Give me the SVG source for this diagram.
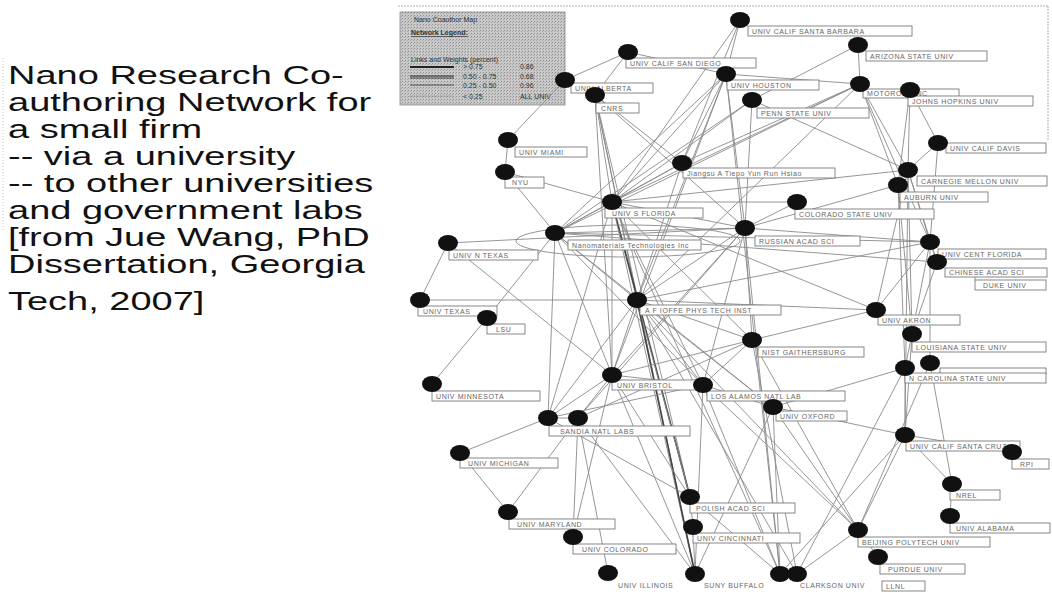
<svg xmlns="http://www.w3.org/2000/svg" width="1052" height="602" viewBox="0 0 1052 602">
<defs>
<pattern id="tex" width="3" height="3" patternUnits="userSpaceOnUse">
<rect width="3" height="3" fill="#c9c9c9"/>
<rect width="1" height="1" fill="#8d8d8d"/>
<rect x="2" y="1" width="1" height="1" fill="#a5a5a5"/>
</pattern>
<style>
.e{stroke:#8a8a8a;stroke-width:0.9;fill:none}
.ed{stroke:#444;stroke-width:1.6;fill:none}
.nd{fill:#111}
.lb{fill:#fff;stroke:#7a7a7a;stroke-width:0.9}
.lt{font-family:"Liberation Sans",Arial,sans-serif;font-size:7px;fill:#666;letter-spacing:0.6px}
.tt{font-family:"Liberation Sans",Arial,sans-serif;font-size:25px;fill:#111}
.lg{font-family:"Liberation Sans",Arial,sans-serif;font-size:7px;fill:#333}
</style>
</defs>
<rect width="1052" height="602" fill="#fff"/>
<g id="frame" stroke="#999" stroke-width="0.8" fill="none" stroke-dasharray="2,1">
<line x1="398" y1="6" x2="1048" y2="6"/>
<line x1="1048" y1="6" x2="1048" y2="140"/>
<line x1="3" y1="58" x2="3" y2="232" stroke="#bbb" stroke-dasharray="1,2"/>
</g>
<g id="title" transform="translate(8,0) scale(1.52,1)">
<text class="tt" x="0" y="84">Nano Research Co-</text>
<text class="tt" x="0" y="111">authoring Network for</text>
<text class="tt" x="0" y="138">a small firm</text>
<text class="tt" x="0" y="165">-- via a university</text>
<text class="tt" x="0" y="192">-- to other universities</text>
<text class="tt" x="0" y="219">and government labs</text>
<text class="tt" x="0" y="246">[from Jue Wang, PhD</text>
<text class="tt" x="0" y="273">Dissertation, Georgia</text>
<text class="tt" x="0" y="310">Tech, 2007]</text>
</g>
<g id="legend">
<rect x="400" y="12" width="165" height="93" fill="url(#tex)" stroke="#888" stroke-width="0.8"/>
<text class="lg" x="414" y="22">Nano Coauthor Map</text>
<text class="lg" x="411" y="35" text-decoration="underline" font-weight="bold">Network Legend:</text>
<text class="lg" x="411" y="62">Links and Weights (percent)</text>
<line x1="410" y1="67" x2="454" y2="67" stroke="#222" stroke-width="2"/>
<text class="lg" x="463" y="69">&gt; 0.75</text><text class="lg" x="520" y="69">0.86</text>
<line x1="410" y1="76" x2="454" y2="76" stroke="#222" stroke-width="1.2"/>
<line x1="410" y1="78" x2="454" y2="78" stroke="#222" stroke-width="0.8"/>
<text class="lg" x="463" y="79">0.50 - 0.75</text><text class="lg" x="520" y="79">0.68</text>
<line x1="410" y1="85" x2="454" y2="85" stroke="#333" stroke-width="0.8"/>
<text class="lg" x="463" y="88">0.25 - 0.50</text><text class="lg" x="520" y="88">0.96</text>
<line x1="410" y1="96" x2="454" y2="96" stroke="#666" stroke-width="0.6" stroke-dasharray="1,1"/>
<text class="lg" x="463" y="99">&lt; 0.25</text><text class="lg" x="520" y="99">ALL UNIV</text>
</g>
<g id="connectors">
<line class="e" x1="740" y1="20" x2="726" y2="74"/>
<line class="e" x1="740" y1="20" x2="612" y2="202"/>
<line class="e" x1="740" y1="20" x2="682" y2="163"/>
<line class="e" x1="858" y1="45" x2="752" y2="100"/>
<line class="e" x1="858" y1="45" x2="860" y2="84"/>
<line class="e" x1="628" y1="52" x2="565" y2="80"/>
<line class="e" x1="628" y1="52" x2="595" y2="95"/>
<line class="e" x1="628" y1="52" x2="726" y2="74"/>
<line class="e" x1="565" y1="80" x2="508" y2="140"/>
<line class="e" x1="726" y1="74" x2="860" y2="84"/>
<line class="e" x1="595" y1="95" x2="612" y2="202"/>
<line class="e" x1="595" y1="95" x2="637" y2="300"/>
<line class="e" x1="595" y1="95" x2="612" y2="375"/>
<line class="e" x1="595" y1="95" x2="695" y2="574"/>
<line class="e" x1="595" y1="95" x2="745" y2="228"/>
<line class="e" x1="595" y1="95" x2="682" y2="163"/>
<line class="e" x1="595" y1="95" x2="690" y2="497"/>
<line class="e" x1="508" y1="140" x2="505" y2="172"/>
<line class="e" x1="505" y1="172" x2="612" y2="202"/>
<line class="e" x1="505" y1="172" x2="555" y2="233"/>
<line class="e" x1="726" y1="74" x2="612" y2="202"/>
<line class="e" x1="726" y1="74" x2="555" y2="233"/>
<line class="e" x1="726" y1="74" x2="637" y2="300"/>
<line class="e" x1="726" y1="74" x2="745" y2="228"/>
<line class="e" x1="726" y1="74" x2="612" y2="375"/>
<line class="e" x1="726" y1="74" x2="780" y2="574"/>
<line class="e" x1="726" y1="74" x2="682" y2="163"/>
<line class="e" x1="752" y1="100" x2="745" y2="228"/>
<line class="e" x1="752" y1="100" x2="612" y2="202"/>
<line class="e" x1="752" y1="100" x2="555" y2="233"/>
<line class="e" x1="752" y1="100" x2="908" y2="170"/>
<line class="e" x1="860" y1="84" x2="682" y2="163"/>
<line class="e" x1="860" y1="84" x2="612" y2="202"/>
<line class="e" x1="860" y1="84" x2="555" y2="233"/>
<line class="e" x1="860" y1="84" x2="908" y2="170"/>
<line class="e" x1="860" y1="84" x2="898" y2="185"/>
<line class="e" x1="860" y1="84" x2="930" y2="242"/>
<line class="e" x1="860" y1="84" x2="637" y2="300"/>
<line class="e" x1="910" y1="90" x2="908" y2="170"/>
<line class="e" x1="910" y1="90" x2="938" y2="143"/>
<line class="e" x1="910" y1="90" x2="898" y2="185"/>
<line class="e" x1="938" y1="143" x2="908" y2="170"/>
<line class="e" x1="938" y1="143" x2="930" y2="242"/>
<line class="e" x1="682" y1="163" x2="612" y2="202"/>
<line class="e" x1="682" y1="163" x2="555" y2="233"/>
<line class="e" x1="682" y1="163" x2="637" y2="300"/>
<line class="e" x1="908" y1="170" x2="612" y2="202"/>
<line class="e" x1="908" y1="170" x2="930" y2="242"/>
<line class="e" x1="908" y1="170" x2="912" y2="334"/>
<line class="e" x1="908" y1="170" x2="876" y2="310"/>
<line class="e" x1="908" y1="170" x2="937" y2="262"/>
<line class="e" x1="908" y1="170" x2="905" y2="435"/>
<line class="e" x1="898" y1="185" x2="745" y2="228"/>
<line class="e" x1="898" y1="185" x2="905" y2="368"/>
<line class="e" x1="898" y1="185" x2="912" y2="334"/>
<line class="e" x1="797" y1="202" x2="745" y2="228"/>
<line class="e" x1="797" y1="202" x2="612" y2="202"/>
<line class="e" x1="612" y1="202" x2="555" y2="233"/>
<line class="e" x1="612" y1="202" x2="637" y2="300"/>
<line class="e" x1="612" y1="202" x2="612" y2="375"/>
<line class="e" x1="612" y1="202" x2="548" y2="418"/>
<line class="ed" x1="612" y1="202" x2="690" y2="497"/>
<line class="e" x1="612" y1="202" x2="695" y2="574"/>
<line class="e" x1="612" y1="202" x2="780" y2="574"/>
<line class="e" x1="612" y1="202" x2="703" y2="385"/>
<line class="e" x1="612" y1="202" x2="752" y2="340"/>
<line class="e" x1="612" y1="202" x2="745" y2="228"/>
<line class="e" x1="612" y1="202" x2="876" y2="310"/>
<line class="e" x1="555" y1="233" x2="637" y2="300"/>
<line class="e" x1="555" y1="233" x2="612" y2="375"/>
<line class="e" x1="555" y1="233" x2="745" y2="228"/>
<line class="e" x1="555" y1="233" x2="937" y2="262"/>
<line class="e" x1="555" y1="233" x2="930" y2="242"/>
<line class="e" x1="555" y1="233" x2="548" y2="418"/>
<line class="e" x1="555" y1="233" x2="703" y2="385"/>
<line class="e" x1="555" y1="233" x2="773" y2="407"/>
<line class="e" x1="745" y1="228" x2="637" y2="300"/>
<line class="e" x1="745" y1="228" x2="612" y2="375"/>
<line class="e" x1="745" y1="228" x2="930" y2="242"/>
<line class="e" x1="745" y1="228" x2="752" y2="340"/>
<line class="e" x1="745" y1="228" x2="703" y2="385"/>
<line class="e" x1="745" y1="228" x2="578" y2="418"/>
<line class="e" x1="745" y1="228" x2="780" y2="574"/>
<line class="e" x1="448" y1="243" x2="420" y2="300"/>
<line class="e" x1="448" y1="243" x2="745" y2="228"/>
<line class="e" x1="448" y1="243" x2="612" y2="375"/>
<line class="e" x1="420" y1="300" x2="637" y2="300"/>
<line class="e" x1="487" y1="318" x2="432" y2="384"/>
<line class="e" x1="487" y1="318" x2="555" y2="233"/>
<line class="e" x1="637" y1="300" x2="612" y2="375"/>
<line class="e" x1="637" y1="300" x2="703" y2="385"/>
<line class="e" x1="637" y1="300" x2="773" y2="407"/>
<line class="e" x1="637" y1="300" x2="876" y2="310"/>
<line class="e" x1="637" y1="300" x2="752" y2="340"/>
<line class="e" x1="637" y1="300" x2="548" y2="418"/>
<line class="e" x1="637" y1="300" x2="690" y2="497"/>
<line class="e" x1="637" y1="300" x2="797" y2="574"/>
<line class="e" x1="637" y1="300" x2="930" y2="242"/>
<line class="e" x1="637" y1="300" x2="858" y2="530"/>
<line class="ed" x1="637" y1="300" x2="695" y2="574"/>
<line class="e" x1="876" y1="310" x2="752" y2="340"/>
<line class="e" x1="876" y1="310" x2="930" y2="242"/>
<line class="e" x1="752" y1="340" x2="612" y2="375"/>
<line class="e" x1="752" y1="340" x2="703" y2="385"/>
<line class="e" x1="752" y1="340" x2="578" y2="418"/>
<line class="e" x1="752" y1="340" x2="797" y2="574"/>
<line class="e" x1="752" y1="340" x2="858" y2="530"/>
<line class="e" x1="912" y1="334" x2="930" y2="242"/>
<line class="e" x1="912" y1="334" x2="905" y2="368"/>
<line class="e" x1="912" y1="334" x2="905" y2="435"/>
<line class="e" x1="905" y1="368" x2="905" y2="435"/>
<line class="e" x1="930" y1="363" x2="952" y2="484"/>
<line class="e" x1="930" y1="363" x2="858" y2="530"/>
<line class="e" x1="905" y1="368" x2="797" y2="574"/>
<line class="e" x1="612" y1="375" x2="703" y2="385"/>
<line class="e" x1="612" y1="375" x2="548" y2="418"/>
<line class="e" x1="612" y1="375" x2="578" y2="418"/>
<line class="e" x1="612" y1="375" x2="690" y2="497"/>
<line class="e" x1="612" y1="375" x2="695" y2="574"/>
<line class="e" x1="612" y1="375" x2="573" y2="537"/>
<line class="e" x1="703" y1="385" x2="773" y2="407"/>
<line class="e" x1="703" y1="385" x2="548" y2="418"/>
<line class="e" x1="703" y1="385" x2="695" y2="574"/>
<line class="e" x1="703" y1="385" x2="780" y2="574"/>
<line class="e" x1="703" y1="385" x2="858" y2="530"/>
<line class="e" x1="773" y1="407" x2="858" y2="530"/>
<line class="e" x1="773" y1="407" x2="695" y2="574"/>
<line class="e" x1="773" y1="407" x2="780" y2="574"/>
<line class="e" x1="773" y1="407" x2="905" y2="368"/>
<line class="e" x1="773" y1="407" x2="905" y2="435"/>
<line class="e" x1="548" y1="418" x2="578" y2="418"/>
<line class="e" x1="548" y1="418" x2="460" y2="453"/>
<line class="e" x1="548" y1="418" x2="690" y2="497"/>
<line class="e" x1="578" y1="418" x2="695" y2="574"/>
<line class="e" x1="578" y1="418" x2="573" y2="537"/>
<line class="e" x1="578" y1="418" x2="508" y2="512"/>
<line class="e" x1="460" y1="453" x2="508" y2="512"/>
<line class="e" x1="690" y1="497" x2="693" y2="527"/>
<line class="e" x1="693" y1="527" x2="695" y2="574"/>
<line class="e" x1="608" y1="573" x2="578" y2="418"/>
<line class="e" x1="797" y1="574" x2="858" y2="530"/>
<line class="e" x1="780" y1="574" x2="690" y2="497"/>
<line class="e" x1="858" y1="530" x2="878" y2="557"/>
<line class="e" x1="858" y1="530" x2="905" y2="435"/>
<line class="e" x1="905" y1="435" x2="1012" y2="452"/>
<line class="e" x1="905" y1="435" x2="952" y2="484"/>
<line class="e" x1="952" y1="484" x2="950" y2="516"/>
<line class="e" x1="937" y1="262" x2="930" y2="242"/>
<line class="e" x1="937" y1="262" x2="912" y2="334"/>
<line class="e" x1="930" y1="242" x2="930" y2="363"/>
<line class="e" x1="905" y1="435" x2="780" y2="574"/>
<line class="e" x1="975" y1="270" x2="975" y2="280"/>
<ellipse cx="628" cy="241" rx="112" ry="16" fill="none" stroke="#888" stroke-width="0.9"/>
</g>
<g id="n-ucsb"><rect class="lb" x="748" y="26" width="164" height="10"/><text class="lt" x="752" y="33.5">UNIV CALIF SANTA BARBARA</text><ellipse class="nd" cx="740" cy="20" rx="10" ry="8"/></g>
<g id="n-asu"><rect class="lb" x="866" y="51" width="121" height="10"/><text class="lt" x="870" y="58.5">ARIZONA STATE UNIV</text><ellipse class="nd" cx="858" cy="45" rx="10" ry="8"/></g>
<g id="n-ucsd"><rect class="lb" x="626" y="58" width="130" height="10"/><text class="lt" x="630" y="65.5">UNIV CALIF SAN DIEGO</text><ellipse class="nd" cx="628" cy="52" rx="10" ry="8"/></g>
<g id="n-alberta"><rect class="lb" x="571" y="83" width="82" height="10"/><text class="lt" x="575" y="90.5">UNIV ALBERTA</text><ellipse class="nd" cx="565" cy="80" rx="10" ry="8"/></g>
<g id="n-cnrs"><rect class="lb" x="596" y="103" width="43" height="10"/><text class="lt" x="601" y="110.5">CNRS</text><ellipse class="nd" cx="595" cy="95" rx="10" ry="8"/></g>
<g id="n-houston"><rect class="lb" x="727" y="80" width="92" height="10"/><text class="lt" x="731" y="87.5">UNIV HOUSTON</text><ellipse class="nd" cx="726" cy="74" rx="10" ry="8"/></g>
<g id="n-motorola"><rect class="lb" x="863" y="89" width="96" height="9"/><text class="lt" x="867" y="96">MOTOROLA INC</text><ellipse class="nd" cx="860" cy="84" rx="10" ry="8"/></g>
<g id="n-jhu"><rect class="lb" x="908" y="96" width="125" height="10"/><text class="lt" x="912" y="103.5">JOHNS HOPKINS UNIV</text><ellipse class="nd" cx="910" cy="90" rx="10" ry="8"/></g>
<g id="n-penn"><rect class="lb" x="757" y="108" width="112" height="10"/><text class="lt" x="761" y="115.5">PENN STATE UNIV</text><ellipse class="nd" cx="752" cy="100" rx="10" ry="8"/></g>
<g id="n-miami"><rect class="lb" x="515" y="147" width="72" height="10"/><text class="lt" x="519" y="154.5">UNIV MIAMI</text><ellipse class="nd" cx="508" cy="140" rx="10" ry="8"/></g>
<g id="n-nyu"><rect class="lb" x="505" y="177" width="39" height="11"/><text class="lt" x="512" y="185">NYU</text><ellipse class="nd" cx="505" cy="172" rx="10" ry="8"/></g>
<g id="n-jiangsu"><rect class="lb" x="683" y="168" width="152" height="10"/><text class="lt" x="687" y="175.5">Jiangsu A Tiepo Yun Run Hsiao</text><ellipse class="nd" cx="682" cy="163" rx="10" ry="8"/></g>
<g id="n-ucdavis"><rect class="lb" x="946" y="143" width="100" height="10"/><text class="lt" x="950" y="150.5">UNIV CALIF DAVIS</text><ellipse class="nd" cx="938" cy="143" rx="10" ry="8"/></g>
<g id="n-cmu"><rect class="lb" x="917" y="176" width="130" height="10"/><text class="lt" x="921" y="183.5">CARNEGIE MELLON UNIV</text><ellipse class="nd" cx="908" cy="170" rx="10" ry="8"/></g>
<g id="n-auburn"><rect class="lb" x="900" y="192" width="88" height="10"/><text class="lt" x="904" y="199.5">AUBURN UNIV</text><ellipse class="nd" cx="898" cy="185" rx="10" ry="8"/></g>
<g id="n-usf"><rect class="lb" x="605" y="208" width="98" height="10"/><text class="lt" x="612" y="215.5">UNIV S FLORIDA</text><ellipse class="nd" cx="612" cy="202" rx="10" ry="8"/></g>
<g id="n-csu"><rect class="lb" x="795" y="209" width="139" height="10"/><text class="lt" x="799" y="216.5">COLORADO STATE UNIV</text><ellipse class="nd" cx="797" cy="202" rx="10" ry="8"/></g>
<g id="n-firm"><rect class="lb" x="568" y="240" width="133" height="10"/><text class="lt" x="572" y="247.5">Nanomaterials Technologies Inc</text><ellipse class="nd" cx="555" cy="233" rx="10" ry="8"/></g>
<g id="n-ras"><rect class="lb" x="755" y="236" width="105" height="10"/><text class="lt" x="759" y="243.5">RUSSIAN ACAD SCI</text><ellipse class="nd" cx="745" cy="228" rx="10" ry="8"/></g>
<g id="n-unt"><rect class="lb" x="449" y="250" width="89" height="10"/><text class="lt" x="453" y="257.5">UNIV N TEXAS</text><ellipse class="nd" cx="448" cy="243" rx="10" ry="8"/></g>
<g id="n-ucf"><rect class="lb" x="938" y="249" width="108" height="10"/><text class="lt" x="942" y="256.5">UNIV CENT FLORIDA</text><ellipse class="nd" cx="930" cy="242" rx="10" ry="8"/></g>
<g id="n-cas"><rect class="lb" x="945" y="268" width="102" height="9"/><text class="lt" x="949" y="275">CHINESE ACAD SCI</text><ellipse class="nd" cx="937" cy="262" rx="10" ry="8"/></g>
<g id="n-duke"><rect class="lb" x="975" y="280" width="71" height="10"/><text class="lt" x="983" y="287.5">DUKE UNIV</text></g>
<g id="n-ut"><rect class="lb" x="418" y="306" width="79" height="10"/><text class="lt" x="423" y="313.5">UNIV TEXAS</text><ellipse class="nd" cx="420" cy="300" rx="10" ry="8"/></g>
<g id="n-lsu"><rect class="lb" x="487" y="324" width="38" height="10"/><text class="lt" x="496" y="331.5">LSU</text><ellipse class="nd" cx="487" cy="318" rx="10" ry="8"/></g>
<g id="n-ioffe"><rect class="lb" x="640" y="305" width="141" height="10"/><text class="lt" x="645" y="312.5">A F IOFFE PHYS TECH INST</text><ellipse class="nd" cx="637" cy="300" rx="10" ry="8"/></g>
<g id="n-akron"><rect class="lb" x="878" y="315" width="82" height="10"/><text class="lt" x="882" y="322.5">UNIV AKRON</text><ellipse class="nd" cx="876" cy="310" rx="10" ry="8"/></g>
<g id="n-nist"><rect class="lb" x="758" y="347" width="106" height="10"/><text class="lt" x="762" y="354.5">NIST GAITHERSBURG</text><ellipse class="nd" cx="752" cy="340" rx="10" ry="8"/></g>
<g id="n-lou"><rect class="lb" x="912" y="342" width="134" height="10"/><text class="lt" x="916" y="349.5">LOUISIANA STATE UNIV</text><ellipse class="nd" cx="912" cy="334" rx="10" ry="8"/></g>
<g id="n-ncsu"><rect class="lb" x="940" y="368" width="106" height="6"/><rect class="lb" x="905" y="373" width="141" height="10"/><text class="lt" x="909" y="380.5">N CAROLINA STATE UNIV</text><ellipse class="nd" cx="905" cy="368" rx="10" ry="8"/><ellipse class="nd" cx="930" cy="363" rx="10" ry="8"/></g>
<g id="n-minn"><rect class="lb" x="432" y="391" width="108" height="10"/><text class="lt" x="436" y="398.5">UNIV MINNESOTA</text><ellipse class="nd" cx="432" cy="384" rx="10" ry="8"/></g>
<g id="n-bristol"><rect class="lb" x="612" y="380" width="88" height="10"/><text class="lt" x="617" y="387.5">UNIV BRISTOL</text><ellipse class="nd" cx="612" cy="375" rx="10" ry="8"/></g>
<g id="n-lanl"><rect class="lb" x="707" y="391" width="138" height="10"/><text class="lt" x="711" y="398.5">LOS ALAMOS NATL LAB</text><ellipse class="nd" cx="703" cy="385" rx="10" ry="8"/></g>
<g id="n-oxford"><rect class="lb" x="776" y="411" width="71" height="10"/><text class="lt" x="780" y="418.5">UNIV OXFORD</text><ellipse class="nd" cx="773" cy="407" rx="10" ry="8"/></g>
<g id="n-sandia"><rect class="lb" x="549" y="426" width="141" height="10"/><text class="lt" x="560" y="433.5">SANDIA NATL LABS</text><ellipse class="nd" cx="548" cy="418" rx="10" ry="8"/><ellipse class="nd" cx="578" cy="418" rx="10" ry="8"/></g>
<g id="n-mich"><rect class="lb" x="460" y="458" width="98" height="10"/><text class="lt" x="468" y="465.5">UNIV MICHIGAN</text><ellipse class="nd" cx="460" cy="453" rx="10" ry="8"/></g>
<g id="n-md"><rect class="lb" x="509" y="519" width="106" height="10"/><text class="lt" x="517" y="526.5">UNIV MARYLAND</text><ellipse class="nd" cx="508" cy="512" rx="10" ry="8"/></g>
<g id="n-colorado"><rect class="lb" x="573" y="544" width="103" height="10"/><text class="lt" x="582" y="551.5">UNIV COLORADO</text><ellipse class="nd" cx="573" cy="537" rx="10" ry="8"/></g>
<g id="n-illinois"><text class="lt" x="618" y="588">UNIV ILLINOIS</text><ellipse class="nd" cx="608" cy="573" rx="10" ry="8"/></g>
<g id="n-suny"><text class="lt" x="704" y="588">SUNY BUFFALO</text><ellipse class="nd" cx="695" cy="574" rx="10" ry="8"/></g>
<g id="n-polish"><rect class="lb" x="690" y="503" width="105" height="10"/><text class="lt" x="696" y="510.5">POLISH ACAD SCI</text><ellipse class="nd" cx="690" cy="497" rx="10" ry="8"/></g>
<g id="n-cinci"><rect class="lb" x="693" y="533" width="107" height="10"/><text class="lt" x="697" y="540.5">UNIV CINCINNATI</text><ellipse class="nd" cx="693" cy="527" rx="10" ry="8"/></g>
<g id="n-clarkson"><text class="lt" x="800" y="588">CLARKSON UNIV</text><ellipse class="nd" cx="780" cy="574" rx="10" ry="8"/><ellipse class="nd" cx="797" cy="574" rx="10" ry="8"/></g>
<g id="n-beijing"><rect class="lb" x="858" y="537" width="132" height="10"/><text class="lt" x="862" y="544.5">BEIJING POLYTECH UNIV</text><ellipse class="nd" cx="858" cy="530" rx="10" ry="8"/></g>
<g id="n-purdue"><rect class="lb" x="880" y="564" width="85" height="10"/><text class="lt" x="888" y="571.5">PURDUE UNIV</text><ellipse class="nd" cx="878" cy="557" rx="10" ry="8"/></g>
<g id="n-llnl"><rect class="lb" x="882" y="581" width="43" height="10"/><text class="lt" x="886" y="588.5">LLNL</text></g>
<g id="n-ucsc"><rect class="lb" x="906" y="441" width="114" height="10"/><text class="lt" x="910" y="448.5">UNIV CALIF SANTA CRUZ</text><ellipse class="nd" cx="905" cy="435" rx="10" ry="8"/></g>
<g id="n-rpi"><rect class="lb" x="1012" y="459" width="37" height="10"/><text class="lt" x="1020" y="466.5">RPI</text><ellipse class="nd" cx="1012" cy="452" rx="10" ry="8"/></g>
<g id="n-nrel"><rect class="lb" x="950" y="490" width="50" height="10"/><text class="lt" x="956" y="497.5">NREL</text><ellipse class="nd" cx="952" cy="484" rx="10" ry="8"/></g>
<g id="n-alabama"><rect class="lb" x="950" y="523" width="100" height="10"/><text class="lt" x="956" y="530.5">UNIV ALABAMA</text><ellipse class="nd" cx="950" cy="516" rx="10" ry="8"/></g>
</svg>
